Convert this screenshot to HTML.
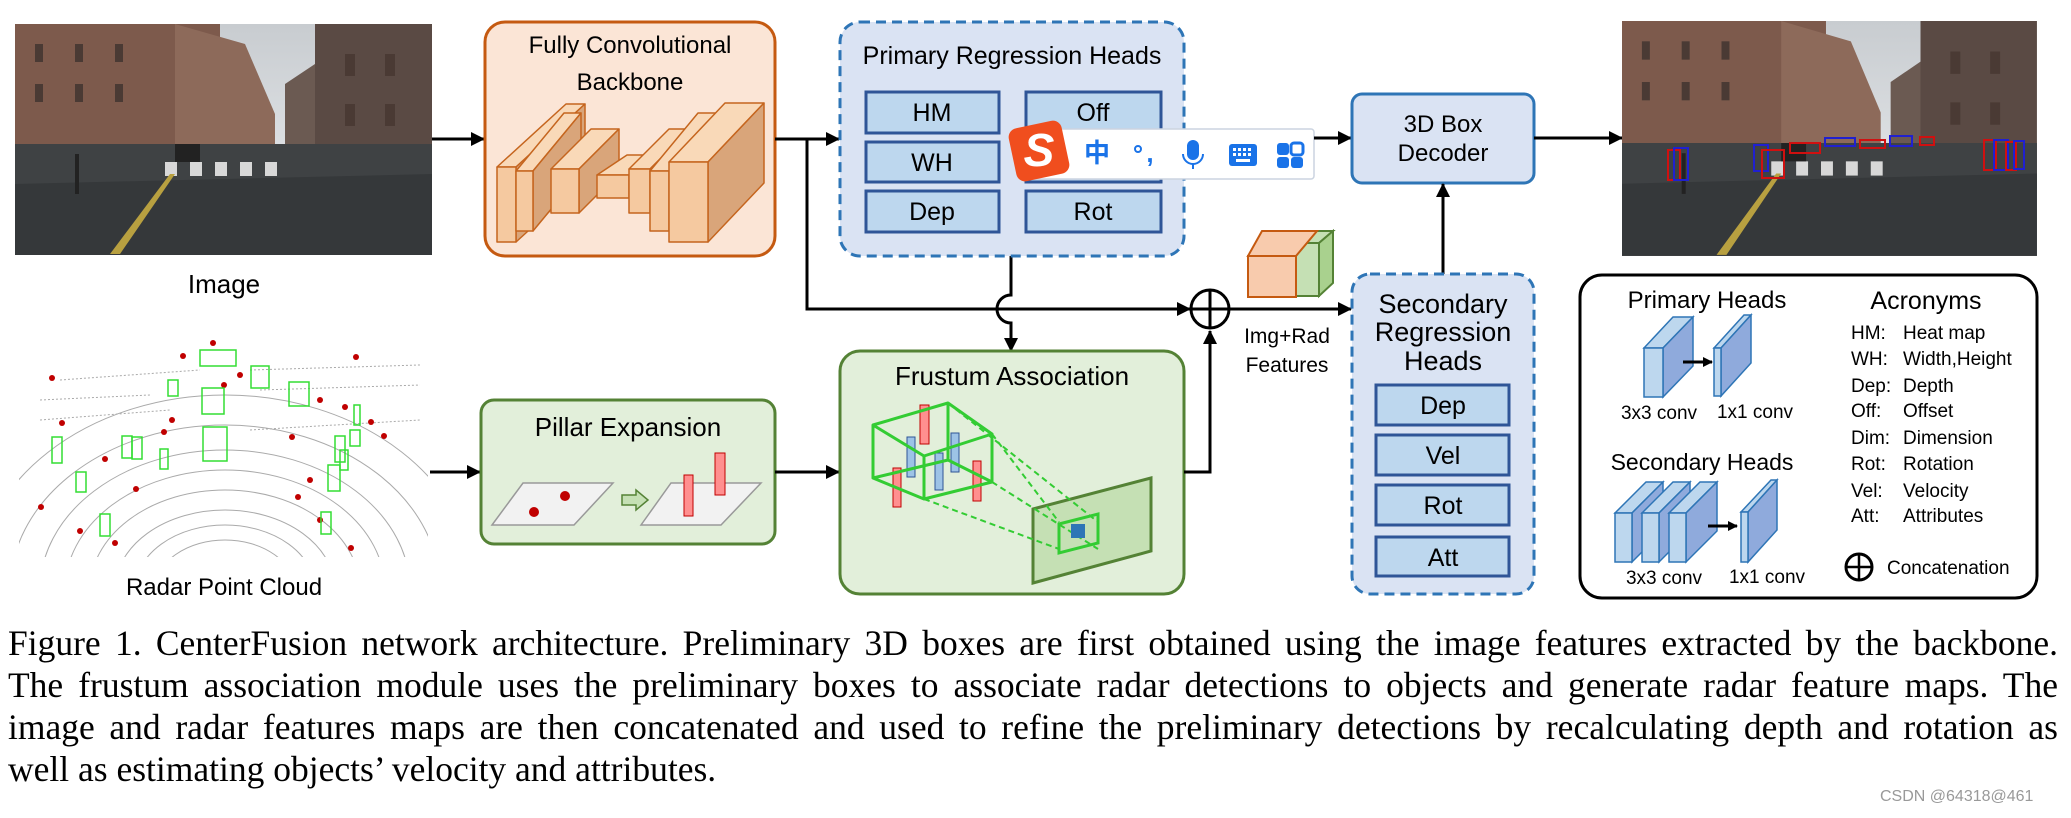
<!DOCTYPE html>
<html><head><meta charset="utf-8"><style>
html,body{margin:0;padding:0;background:#fff;}
body{width:2071px;height:818px;overflow:hidden;position:relative;}
svg{position:absolute;left:0;top:0;}
.cap{position:absolute;left:8px;top:622px;width:2050px;font-family:"Liberation Serif",serif;font-size:35.5px;line-height:42px;color:#000;}
.cap div{text-align:justify;text-align-last:justify;white-space:nowrap;}
.cap div.l{text-align-last:left;}
.wm{position:absolute;left:1880px;top:788px;font-family:"Liberation Sans",sans-serif;font-size:16px;color:#999;}
</style></head><body>
<svg width="2071" height="818" viewBox="0 0 2071 818" xmlns="http://www.w3.org/2000/svg" font-family="Liberation Sans, sans-serif">
<defs>
<marker id="ar" markerWidth="10" markerHeight="10" refX="9" refY="5" orient="auto" markerUnits="userSpaceOnUse"><path d="M0,0 L10,5 L0,10 z" fill="#000"/></marker>
<marker id="ab" markerWidth="14" markerHeight="14" refX="13" refY="7" orient="auto" markerUnits="userSpaceOnUse"><path d="M0,0 L14,7 L0,14 z" fill="#000"/></marker>
<linearGradient id="sky" x1="0" y1="0" x2="0" y2="1"><stop offset="0" stop-color="#c8ccd0"/><stop offset="1" stop-color="#eef0f2"/></linearGradient>
<g id="photo">
<rect width="417" height="231" fill="url(#sky)"/>
<rect x="0" y="0" width="205" height="175" fill="#7d5a4c"/>
<polygon points="160,0 230,20 260,90 260,170 160,175" fill="#8d6a5a"/>
<rect x="300" y="0" width="117" height="165" fill="#5a4a44"/>
<polygon points="270,60 300,40 300,160 270,160" fill="#6b5a52"/>
<polygon points="0,120 417,120 417,231 0,231" fill="#3f4244"/>
<polygon points="0,160 417,150 417,231 0,231" fill="#35383a"/>
<g fill="#d8d8d8"><rect x="150" y="138" width="12" height="14"/><rect x="175" y="138" width="12" height="14"/><rect x="200" y="138" width="12" height="14"/><rect x="225" y="138" width="12" height="14"/><rect x="250" y="138" width="12" height="14"/></g>
<polygon points="95,230 105,230 160,150 155,150" fill="#b8a040"/>
<g fill="#4a3a34"><rect x="20" y="20" width="8" height="18"/><rect x="60" y="20" width="8" height="18"/><rect x="100" y="20" width="8" height="18"/><rect x="20" y="60" width="8" height="18"/><rect x="60" y="60" width="8" height="18"/><rect x="100" y="60" width="8" height="18"/><rect x="330" y="30" width="10" height="22"/><rect x="370" y="30" width="10" height="22"/><rect x="330" y="80" width="10" height="22"/><rect x="370" y="80" width="10" height="22"/></g>
<rect x="60" y="130" width="4" height="40" fill="#222"/><rect x="160" y="120" width="25" height="18" fill="#222"/>
</g>
</defs>

<use href="#photo" transform="translate(15,24)"/>
<text x="224" y="293" font-size="26" text-anchor="middle">Image</text>

<g>
<rect x="19" y="338" width="409" height="219" fill="#fff"/>
<clipPath id="rc"><rect x="19" y="338" width="409" height="219"/></clipPath>
<g clip-path="url(#rc)" fill="none" stroke="#aaa" stroke-width="1">
<ellipse cx="225" cy="590" rx="70" ry="50"/><ellipse cx="225" cy="590" rx="90" ry="65"/><ellipse cx="225" cy="590" rx="110" ry="80"/><ellipse cx="225" cy="590" rx="135" ry="100"/><ellipse cx="225" cy="590" rx="160" ry="120"/><ellipse cx="225" cy="590" rx="185" ry="140"/><ellipse cx="225" cy="590" rx="215" ry="165"/><ellipse cx="225" cy="590" rx="250" ry="195"/>
<path d="M40,400 L150,395 M40,420 L170,410 M60,380 L200,370 M250,370 L420,365 M260,390 L420,385 M250,430 L420,420" stroke-dasharray="2,2"/>
</g>
<g fill="#c00000"><circle cx="52" cy="378" r="3"/><circle cx="62" cy="423" r="3"/><circle cx="172" cy="420" r="3"/><circle cx="164" cy="432" r="3"/><circle cx="240" cy="375" r="3"/><circle cx="320" cy="400" r="3"/><circle cx="371" cy="422" r="3"/><circle cx="384" cy="436" r="3"/><circle cx="292" cy="437" r="3"/><circle cx="105" cy="459" r="3"/><circle cx="310" cy="480" r="3"/><circle cx="298" cy="497" r="3"/><circle cx="136" cy="489" r="3"/><circle cx="41" cy="507" r="3"/><circle cx="80" cy="531" r="3"/><circle cx="115" cy="543" r="3"/><circle cx="351" cy="548" r="3"/><circle cx="320" cy="520" r="3"/><circle cx="224" cy="385" r="3"/><circle cx="213" cy="343" r="3"/><circle cx="183" cy="356" r="3"/><circle cx="356" cy="357" r="3"/><circle cx="345" cy="407" r="3"/></g>
<g fill="none" stroke="#33dd33" stroke-width="1.5"><rect x="200" y="350" width="36" height="16"/><rect x="251" y="366" width="18" height="22"/><rect x="202" y="388" width="22" height="26"/><rect x="289" y="382" width="20" height="24"/><rect x="203" y="427" width="24" height="34"/><rect x="122" y="436" width="10" height="22"/><rect x="132" y="437" width="10" height="22"/><rect x="52" y="437" width="10" height="26"/><rect x="160" y="449" width="8" height="20"/><rect x="76" y="472" width="10" height="20"/><rect x="100" y="514" width="10" height="22"/><rect x="335" y="436" width="10" height="26"/><rect x="350" y="430" width="10" height="16"/><rect x="328" y="465" width="12" height="26"/><rect x="340" y="450" width="8" height="20"/><rect x="321" y="512" width="10" height="22"/><rect x="354" y="405" width="6" height="20"/><rect x="168" y="380" width="10" height="16"/></g>
</g>
<text x="224" y="595" font-size="24" text-anchor="middle">Radar Point Cloud</text>

<line x1="432" y1="139" x2="484" y2="139" stroke="#000" stroke-width="3" marker-end="url(#ab)"/>
<line x1="430" y1="472" x2="480" y2="472" stroke="#000" stroke-width="3" marker-end="url(#ab)"/>

<rect x="485" y="22" width="290" height="234" rx="20" fill="#fbe5d6" stroke="#c55a11" stroke-width="3"/>
<text x="630" y="53" font-size="24" text-anchor="middle">Fully Convolutional</text>
<text x="630" y="90" font-size="24" text-anchor="middle">Backbone</text>
<g stroke="#c5651e" stroke-width="1.5" stroke-linejoin="round">
<polygon points="497,167 566,104 585,104 516,167" fill="#f9d9b8"/><polygon points="516,167 585,104 585,179 516,242" fill="#d9a57a"/><rect x="497" y="167" width="19" height="75" fill="#f5c9a0"/>
<polygon points="516,171 564,113 581,113 533,171" fill="#f9d9b8"/><polygon points="533,171 581,113 581,173 533,231" fill="#d9a57a"/><rect x="516" y="171" width="17" height="60" fill="#f5c9a0"/>
<polygon points="551,169 591,129 619,129 579,169" fill="#f9d9b8"/><polygon points="579,169 619,129 619,173 579,213" fill="#d9a57a"/><rect x="551" y="169" width="28" height="44" fill="#f5c9a0"/>
<polygon points="597,175 627,155 659,155 629,175" fill="#f9d9b8"/><polygon points="629,175 659,155 659,178 629,198" fill="#d9a57a"/><rect x="597" y="175" width="32" height="23" fill="#f5c9a0"/>
<polygon points="629,169 669,129 690,129 650,169" fill="#f9d9b8"/><polygon points="650,169 690,129 690,173 650,213" fill="#d9a57a"/><rect x="629" y="169" width="21" height="44" fill="#f5c9a0"/>
<polygon points="650,171 698,113 717,113 669,171" fill="#f9d9b8"/><polygon points="669,171 717,113 717,173 669,231" fill="#d9a57a"/><rect x="650" y="171" width="19" height="60" fill="#f5c9a0"/>
<polygon points="669,162 725,103 764,103 708,162" fill="#f9d9b8"/><polygon points="708,162 764,103 764,183 708,242" fill="#d9a57a"/><rect x="669" y="162" width="39" height="80" fill="#f5c9a0"/>
</g>

<line x1="775" y1="139" x2="839" y2="139" stroke="#000" stroke-width="3" marker-end="url(#ab)"/>
<polyline points="807,139 807,309 1190,309" fill="none" stroke="#000" stroke-width="3" marker-end="url(#ab)"/>
<path d="M1011,256 L1011,295 A14,14 0 0 0 1011,323 L1011,351" fill="none" stroke="#000" stroke-width="3" marker-end="url(#ab)"/>

<rect x="840" y="22" width="344" height="234" rx="20" fill="#dae3f3" stroke="#2e75b6" stroke-width="3" stroke-dasharray="10,6"/>
<text x="1012" y="64" font-size="25" text-anchor="middle">Primary Regression Heads</text>
<g fill="#bdd7ee" stroke="#2f5597" stroke-width="3">
<rect x="866" y="92" width="133" height="41"/><rect x="1026" y="92" width="135" height="41"/>
<rect x="866" y="142" width="133" height="40"/><rect x="1026" y="142" width="135" height="40"/>
<rect x="866" y="191" width="133" height="41"/><rect x="1026" y="191" width="135" height="41"/>
</g>
<g font-size="25" text-anchor="middle"><text x="932" y="121">HM</text><text x="1093" y="121">Off</text><text x="932" y="171">WH</text><text x="1093" y="171">Dim</text><text x="932" y="220">Dep</text><text x="1093" y="220">Rot</text></g>

<rect x="1030" y="129" width="284" height="50" rx="3" fill="#fff" stroke="#ccd4e0" stroke-width="1.5"/>
<rect x="1012" y="124" width="54" height="54" rx="9" fill="#f04e1e" transform="rotate(-12 1039 151)"/>
<text x="1039" y="166" font-size="46" font-weight="bold" fill="#fff" text-anchor="middle" font-style="italic">S</text>
<text x="1097" y="162" font-size="26" fill="#1a73e8" text-anchor="middle" font-family="Noto Sans CJK SC, sans-serif" font-weight="bold">中</text>
<circle cx="1138" cy="149" r="3" fill="none" stroke="#1a73e8" stroke-width="2"/>
<text x="1150" y="162" font-size="26" fill="#1a73e8" font-weight="bold" text-anchor="middle">,</text>
<rect x="1187" y="140" width="12" height="20" rx="6" fill="#1a73e8"/><path d="M1183,154 a10,10 0 0 0 20,0" fill="none" stroke="#1a73e8" stroke-width="2"/><line x1="1193" y1="164" x2="1193" y2="169" stroke="#1a73e8" stroke-width="2"/>
<rect x="1229" y="144" width="28" height="22" rx="3" fill="#1a73e8"/><g fill="#fff"><rect x="1233" y="148" width="3" height="3"/><rect x="1238" y="148" width="3" height="3"/><rect x="1243" y="148" width="3" height="3"/><rect x="1248" y="148" width="3" height="3"/><rect x="1233" y="153" width="3" height="3"/><rect x="1238" y="153" width="3" height="3"/><rect x="1243" y="153" width="3" height="3"/><rect x="1248" y="153" width="3" height="3"/><rect x="1236" y="159" width="14" height="3"/></g>
<g fill="#1a73e8"><rect x="1277" y="143" width="12" height="12" rx="3"/><rect x="1277" y="157" width="12" height="11" rx="3"/><rect x="1291" y="157" width="12" height="11" rx="3"/><rect x="1291" y="143" width="12" height="12" rx="3" fill="none" stroke="#1a73e8" stroke-width="3"/></g>
<line x1="1314" y1="138" x2="1351" y2="138" stroke="#000" stroke-width="3" marker-end="url(#ab)"/>

<rect x="1352" y="94" width="182" height="89" rx="10" fill="#dae3f3" stroke="#2e75b6" stroke-width="3"/>
<text x="1443" y="132" font-size="24" text-anchor="middle">3D Box</text>
<text x="1443" y="161" font-size="24" text-anchor="middle">Decoder</text>
<line x1="1534" y1="138" x2="1622" y2="138" stroke="#000" stroke-width="3" marker-end="url(#ab)"/>
<line x1="1443" y1="274" x2="1443" y2="184" stroke="#000" stroke-width="3" marker-end="url(#ab)"/>

<use href="#photo" transform="translate(1622,21) scale(0.995,1.017)"/>
<g fill="none" stroke-width="2">
<rect x="1668" y="150" width="12" height="30" stroke="#d01010"/><rect x="1674" y="148" width="14" height="32" stroke="#2020d0"/>
<rect x="1754" y="145" width="14" height="26" stroke="#2020d0"/><rect x="1762" y="150" width="22" height="28" stroke="#d01010"/>
<rect x="1790" y="143" width="30" height="10" stroke="#d01010"/><rect x="1825" y="138" width="30" height="8" stroke="#2020d0"/><rect x="1860" y="140" width="25" height="8" stroke="#d01010"/><rect x="1890" y="136" width="22" height="10" stroke="#2020d0"/><rect x="1920" y="137" width="14" height="8" stroke="#d01010"/>
<rect x="1984" y="140" width="12" height="30" stroke="#d01010"/><rect x="1994" y="140" width="14" height="30" stroke="#2020d0"/><rect x="2006" y="142" width="10" height="28" stroke="#d01010"/><rect x="2014" y="141" width="10" height="28" stroke="#2020d0"/>
</g>

<rect x="481" y="400" width="294" height="144" rx="13" fill="#e2efda" stroke="#548235" stroke-width="3"/>
<text x="628" y="436" font-size="26" text-anchor="middle">Pillar Expansion</text>
<g stroke="#999" stroke-width="1.5">
<polygon points="492,525 523,483 613,483 574,525" fill="#f2f2f2"/>
<polygon points="641,525 671,483 761,483 721,525" fill="#f2f2f2"/>
</g>
<circle cx="565" cy="496" r="5" fill="#c00000"/><circle cx="534" cy="512" r="5" fill="#c00000"/>
<polygon points="622,495 636,495 636,490 648,500 636,510 636,505 622,505" fill="#c5e0b4" stroke="#548235" stroke-width="1.5"/>
<g fill="#ff8f8f" stroke="#c00000" stroke-width="1"><rect x="684" y="475" width="9" height="41"/><rect x="715" y="453" width="10" height="42"/></g>
<line x1="775" y1="472" x2="839" y2="472" stroke="#000" stroke-width="3" marker-end="url(#ab)"/>

<rect x="840" y="351" width="344" height="243" rx="20" fill="#e2efda" stroke="#548235" stroke-width="3"/>
<text x="1012" y="385" font-size="26" text-anchor="middle">Frustum Association</text>
<polygon points="1033,509 1151,478 1151,551 1033,583" fill="#c5e0b4" stroke="#548235" stroke-width="3"/>
<g stroke="#33cc33" stroke-width="2" stroke-dasharray="6,4" fill="none"><line x1="992" y1="434" x2="1059" y2="522"/><line x1="992" y1="482" x2="1098" y2="549"/><line x1="924" y1="499" x2="1059" y2="549"/><line x1="948" y1="403" x2="1098" y2="522"/></g>
<polygon points="1059,524 1098,514 1098,543 1059,553" fill="none" stroke="#33cc33" stroke-width="3"/>
<rect x="1071" y="524" width="14" height="14" fill="#2e75b6"/>
<g fill="#9dc3e6" stroke="#2f5597" stroke-width="1"><rect x="907" y="437" width="8" height="40"/><rect x="951" y="433" width="8" height="39"/><rect x="935" y="453" width="8" height="37"/></g>
<g fill="#ff8f8f" stroke="#c00000" stroke-width="1"><rect x="920" y="405" width="9" height="39"/><rect x="893" y="468" width="8" height="39"/><rect x="973" y="461" width="8" height="40"/></g>
<g fill="none" stroke="#33cc33" stroke-width="3" stroke-linejoin="round">
<polygon points="873,425 948,403 992,434 924,456"/><polygon points="873,478 948,460 992,482 924,499"/>
<line x1="873" y1="425" x2="873" y2="478"/><line x1="948" y1="403" x2="948" y2="460"/><line x1="992" y1="434" x2="992" y2="482"/><line x1="924" y1="456" x2="924" y2="499"/>
</g>
<polyline points="1184,472 1210,472 1210,331" fill="none" stroke="#000" stroke-width="3" marker-end="url(#ab)"/>

<circle cx="1210" cy="309" r="19" fill="#fff" stroke="#000" stroke-width="3"/>
<line x1="1191" y1="309" x2="1229" y2="309" stroke="#000" stroke-width="3"/><line x1="1210" y1="290" x2="1210" y2="328" stroke="#000" stroke-width="3"/>
<line x1="1229" y1="309" x2="1351" y2="309" stroke="#000" stroke-width="3" marker-end="url(#ab)"/>
<text x="1287" y="343" font-size="21" text-anchor="middle">Img+Rad</text>
<text x="1287" y="372" font-size="21" text-anchor="middle">Features</text>
<polygon points="1296,243 1310,231 1333,231 1319,243" fill="#c5e0b4" stroke="#548235" stroke-width="2"/>
<polygon points="1319,243 1333,231 1333,283 1319,296" fill="#a9d18e" stroke="#548235" stroke-width="2"/>
<rect x="1296" y="243" width="23" height="53" fill="#c5e0b4" stroke="#548235" stroke-width="2"/>
<polygon points="1248,256 1262,231 1317,231 1296,256" fill="#f8cbad" stroke="#c55a11" stroke-width="2"/>
<rect x="1248" y="256" width="48" height="41" fill="#f8cbad" stroke="#c55a11" stroke-width="2"/>

<rect x="1352" y="274" width="182" height="320" rx="18" fill="#dae3f3" stroke="#2e75b6" stroke-width="3" stroke-dasharray="10,6"/>
<text x="1443" y="313" font-size="27" text-anchor="middle">Secondary</text>
<text x="1443" y="341" font-size="27" text-anchor="middle">Regression</text>
<text x="1443" y="370" font-size="27" text-anchor="middle">Heads</text>
<g fill="#bdd7ee" stroke="#2f5597" stroke-width="3"><rect x="1376" y="385" width="133" height="40"/><rect x="1376" y="435" width="133" height="40"/><rect x="1376" y="485" width="133" height="40"/><rect x="1376" y="537" width="133" height="39"/></g>
<g font-size="25" text-anchor="middle"><text x="1443" y="414">Dep</text><text x="1443" y="464">Vel</text><text x="1443" y="514">Rot</text><text x="1443" y="566">Att</text></g>

<rect x="1580" y="275" width="457" height="323" rx="22" fill="#fff" stroke="#000" stroke-width="3"/>
<text x="1707" y="308" font-size="24" text-anchor="middle">Primary Heads</text>
<text x="1926" y="309" font-size="25" text-anchor="middle">Acronyms</text>
<g stroke="#2e75b6" stroke-width="1.5">
<polygon points="1644,348 1673,317 1693,317 1663,348" fill="#bdd7ee"/><polygon points="1663,348 1693,317 1693,366 1663,397" fill="#8faadc"/><rect x="1644" y="348" width="19" height="49" fill="#bdd7ee"/>
<polygon points="1714,348 1744,315 1751,315 1721,348" fill="#bdd7ee"/><polygon points="1721,348 1751,315 1751,363 1721,396" fill="#8faadc"/><rect x="1714" y="348" width="7" height="48" fill="#bdd7ee"/>
</g>
<line x1="1683" y1="362" x2="1712" y2="362" stroke="#000" stroke-width="3" marker-end="url(#ar)"/>
<text x="1659" y="419" font-size="19" text-anchor="middle">3x3 conv</text>
<text x="1755" y="418" font-size="19" text-anchor="middle">1x1 conv</text>
<text x="1702" y="470" font-size="23" text-anchor="middle">Secondary Heads</text>
<g stroke="#2e75b6" stroke-width="1.5">
<polygon points="1615,513 1646,482 1663,482 1632,513" fill="#bdd7ee"/><polygon points="1632,513 1663,482 1663,531 1632,562" fill="#8faadc"/><rect x="1615" y="513" width="17" height="49" fill="#bdd7ee"/>
<polygon points="1642,513 1673,482 1690,482 1659,513" fill="#bdd7ee"/><polygon points="1659,513 1690,482 1690,531 1659,562" fill="#8faadc"/><rect x="1642" y="513" width="17" height="49" fill="#bdd7ee"/>
<polygon points="1669,513 1700,482 1717,482 1686,513" fill="#bdd7ee"/><polygon points="1686,513 1717,482 1717,531 1686,562" fill="#8faadc"/><rect x="1669" y="513" width="17" height="49" fill="#bdd7ee"/>
<polygon points="1741,512 1771,480 1777,480 1748,512" fill="#bdd7ee"/><polygon points="1748,512 1777,480 1777,530 1748,562" fill="#8faadc"/><rect x="1741" y="512" width="7" height="50" fill="#bdd7ee"/>
</g>
<line x1="1708" y1="526" x2="1737" y2="526" stroke="#000" stroke-width="3" marker-end="url(#ar)"/>
<text x="1664" y="584" font-size="19" text-anchor="middle">3x3 conv</text>
<text x="1767" y="583" font-size="19" text-anchor="middle">1x1 conv</text>
<g font-size="19"><text x="1851" y="339">HM:</text><text x="1903" y="339">Heat map</text>
<text x="1851" y="365">WH:</text><text x="1903" y="365">Width,Height</text>
<text x="1851" y="392">Dep:</text><text x="1903" y="392">Depth</text>
<text x="1851" y="417">Off:</text><text x="1903" y="417">Offset</text>
<text x="1851" y="444">Dim:</text><text x="1903" y="444">Dimension</text>
<text x="1851" y="470">Rot:</text><text x="1903" y="470">Rotation</text>
<text x="1851" y="497">Vel:</text><text x="1903" y="497">Velocity</text>
<text x="1851" y="522">Att:</text><text x="1903" y="522">Attributes</text>
<text x="1887" y="574">Concatenation</text></g>
<circle cx="1859" cy="567" r="13" fill="none" stroke="#000" stroke-width="3"/>
<line x1="1846" y1="567" x2="1872" y2="567" stroke="#000" stroke-width="2.5"/><line x1="1859" y1="554" x2="1859" y2="580" stroke="#000" stroke-width="2.5"/>
</svg>
<div class="cap">
<div>Figure 1. CenterFusion network architecture. Preliminary 3D boxes are first obtained using the image features extracted by the backbone.</div>
<div>The frustum association module uses the preliminary boxes to associate radar detections to objects and generate radar feature maps. The</div>
<div>image and radar features maps are then concatenated and used to refine the preliminary detections by recalculating depth and rotation as</div>
<div class="l">well as estimating objects’ velocity and attributes.</div>
</div>
<div class="wm">CSDN @64318@461</div>
</body></html>
